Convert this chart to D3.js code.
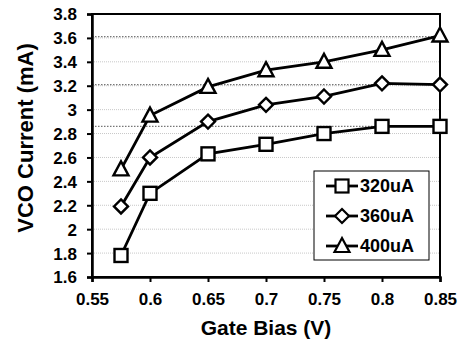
<!DOCTYPE html>
<html>
<head>
<script src="https://cdnjs.cloudflare.com/ajax/libs/d3/7.8.5/d3.min.js"></script>
<style>
  body { margin: 0; background: #fff; }
  svg text { font-family: Arial, "Liberation Sans", sans-serif; font-weight: bold; }
</style>
</head>
<body>
<div id="chart"></div>
<script>
    var gateBias = [0.575, 0.6, 0.65, 0.7, 0.75, 0.8, 0.85];
    var i320 = [1.78, 2.30, 2.63, 2.71, 2.80, 2.86, 2.86];
    var i360 = [2.19, 2.60, 2.90, 3.04, 3.11, 3.22, 3.21];
    var i400 = [2.50, 2.95, 3.19, 3.33, 3.40, 3.50, 3.62];
    var seriesNames = ["320uA", "360uA", "400uA"];
    var markerTypes = ["square", "diamond", "triangle"];
    var xTicks = [0.55, 0.6, 0.65, 0.7, 0.75, 0.8, 0.85];
    var yTicks = [1.6, 1.8, 2, 2.2, 2.4, 2.6, 2.8, 3, 3.2, 3.4, 3.6, 3.8];
    // dotted reference lines at saturation levels
    var refLevels = [3.61, 3.21, 2.86];

    var width = 471, height = 349;
    var margin = { top: 14, right: 31, bottom: 72, left: 92 };
    var w = width - margin.left - margin.right;
    var h = height - margin.top - margin.bottom;

    var svg = d3.select("#chart").append("svg")
        .attr("width", width).attr("height", height);
    var g = svg.append("g")
        .attr("transform", "translate(" + margin.left + "," + margin.top + ")");

    var x = d3.scaleLinear().domain([0.55, 0.85]).range([0, w]);
    var y = d3.scaleLinear().domain([1.6, 3.8]).range([h, 0]);

    // light grid
    g.selectAll(".grid").data(yTicks.slice(1, -1)).enter().append("line")
        .attr("x1", 0).attr("x2", w)
        .attr("y1", function (d) { return y(d); }).attr("y2", function (d) { return y(d); })
        .attr("stroke", "#c8c8c8").attr("stroke-width", 1).attr("stroke-dasharray", "1,1");

    g.selectAll(".ref").data(refLevels).enter().append("line")
        .attr("x1", 0).attr("x2", w)
        .attr("y1", function (d) { return y(d); }).attr("y2", function (d) { return y(d); })
        .attr("stroke", "#777").attr("stroke-width", 1.3).attr("stroke-dasharray", "1.5,1.5");

    // frame
    g.append("rect").attr("x", 0).attr("y", 0).attr("width", w).attr("height", h)
        .attr("fill", "none").attr("stroke", "#000").attr("stroke-width", 2);

    var xAxis = g.append("g").attr("transform", "translate(0," + h + ")")
        .call(d3.axisBottom(x).tickValues(xTicks).tickSize(5).tickPadding(10)
            .tickFormat(function (d) { return String(+d.toFixed(2)); }));
    var yAxis = g.append("g")
        .call(d3.axisLeft(y).tickValues(yTicks).tickSize(5).tickPadding(10)
            .tickFormat(function (d) { return String(+d.toFixed(1)); }));
    [xAxis, yAxis].forEach(function (a) {
        a.select(".domain").attr("stroke-width", 2.5);
        a.selectAll(".tick line").attr("stroke-width", 2);
        a.selectAll("text").style("font-size", "17px").attr("fill", "#000");
    });
    yAxis.selectAll("text").attr("dy", "0.35em").attr("x", -15);
    xAxis.selectAll("text").attr("dy", "0.71em").attr("y", 16);

    svg.append("text")
        .attr("x", 266).attr("y", 335)
        .attr("text-anchor", "middle").style("font-size", "21px")
        .text("Gate Bias (V)");
    svg.append("text")
        .attr("transform", "translate(33," + 138 + ") rotate(-90)")
        .attr("text-anchor", "middle").style("font-size", "22px")
        .text("VCO Current (mA)");

    function drawMarker(sel, type, cx, cy) {
        if (type === "square") {
            sel.append("rect").attr("x", cx - 6.5).attr("y", cy - 6.5)
                .attr("width", 13).attr("height", 13);
        } else if (type === "diamond") {
            sel.append("path").attr("d", "M" + cx + "," + (cy - 7) + "L" + (cx + 7) + "," + cy +
                "L" + cx + "," + (cy + 7) + "L" + (cx - 7) + "," + cy + "Z");
        } else {
            sel.append("path").attr("d", "M" + cx + "," + (cy - 8) + "L" + (cx + 7.5) + "," + (cy + 6) +
                "L" + (cx - 7.5) + "," + (cy + 6) + "Z");
        }
    }

    var allSeries = [i320, i360, i400];
    var line = d3.line()
        .x(function (d, i) { return x(gateBias[i]); })
        .y(function (d) { return y(d); });

    for (var s = 0; s < allSeries.length; s++) {
        g.append("path").datum(allSeries[s]).attr("d", line)
            .attr("fill", "none").attr("stroke", "#000").attr("stroke-width", 2.8);
        var mk = g.append("g").attr("fill", "#fff").attr("stroke", "#000").attr("stroke-width", 2.4);
        for (var k = 0; k < gateBias.length; k++) {
            drawMarker(mk, markerTypes[s], x(gateBias[k]), y(allSeries[s][k]));
        }
    }

    // legend
    var legend = svg.append("g").attr("transform", "translate(314,171)");
    legend.append("rect").attr("width", 115).attr("height", 89)
        .attr("fill", "#fff").attr("stroke", "#000").attr("stroke-width", 1);
    for (var l = 0; l < seriesNames.length; l++) {
        var ly = 15 + l * 30;
        legend.append("line").attr("x1", 12).attr("x2", 44).attr("y1", ly).attr("y2", ly)
            .attr("stroke", "#000").attr("stroke-width", 2.8);
        var lm = legend.append("g").attr("fill", "#fff").attr("stroke", "#000").attr("stroke-width", 2.2);
        drawMarker(lm, markerTypes[l], 28, ly);
        legend.append("text").attr("x", 46).attr("y", ly + 6)
            .style("font-size", "18px").text(seriesNames[l]);
    }
</script>
</body>
</html>
